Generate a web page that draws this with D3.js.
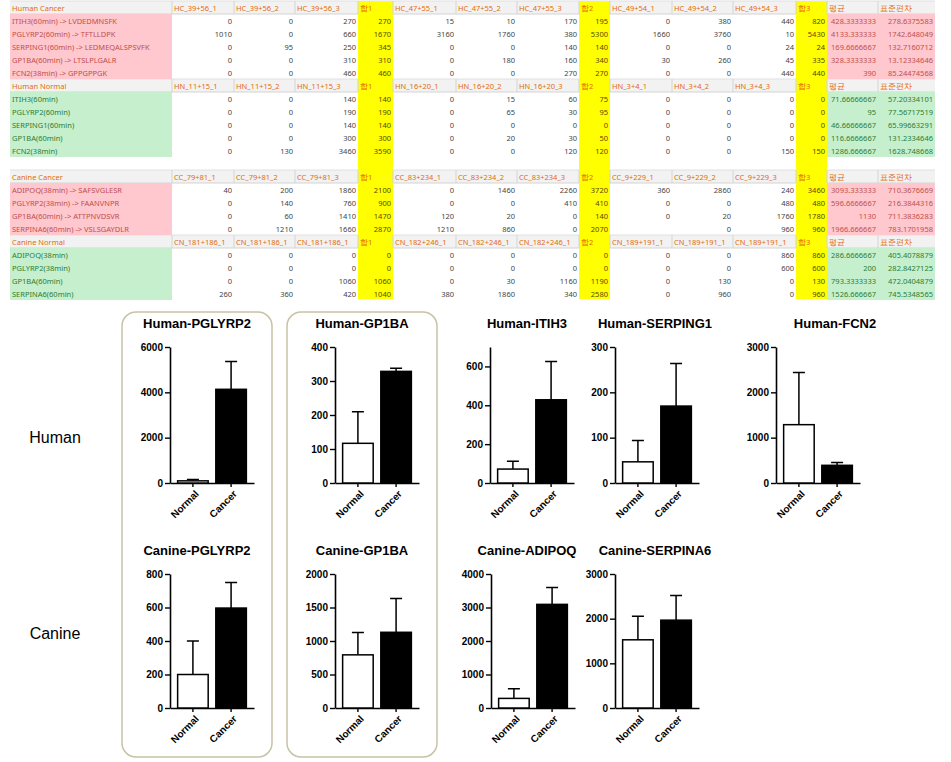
<!DOCTYPE html>
<html>
<head>
<meta charset="utf-8">
<script src="https://cdn.jsdelivr.net/npm/d3@7"></script>
<style>
  body { margin: 0; background: #fff; }
  svg { display: block; }
</style>
</head>
<body>
<svg id="fig"></svg>
<script>
// ---------- spreadsheet data ----------
const hcHeader = ["Human Cancer", "HC_39+56_1", "HC_39+56_2", "HC_39+56_3", "합1", "HC_47+55_1", "HC_47+55_2", "HC_47+55_3", "합2", "HC_49+54_1", "HC_49+54_2", "HC_49+54_3", "합3", "평균", "표준편차"];
const hcLabels = ["ITIH3(60min) -> LVDEDMNSFK", "PGLYRP2(60min) -> TFTLLDPK", "SERPING1(60min) -> LEDMEQALSPSVFK", "GP1BA(60min) -> LTSLPLGALR", "FCN2(38min) -> GPPGPPGK"];
const hcValues = [
  ["0", "0", "270", "270", "15", "10", "170", "195", "0", "380", "440", "820", "428.3333333", "278.6375583"],
  ["1010", "0", "660", "1670", "3160", "1760", "380", "5300", "1660", "3760", "10", "5430", "4133.333333", "1742.648049"],
  ["0", "95", "250", "345", "0", "0", "140", "140", "0", "0", "24", "24", "169.6666667", "132.7160712"],
  ["0", "0", "310", "310", "0", "180", "160", "340", "30", "260", "45", "335", "328.3333333", "13.12334646"],
  ["0", "0", "460", "460", "0", "0", "270", "270", "0", "0", "440", "440", "390", "85.24474568"]
];

const hnHeader = ["Human Normal", "HN_11+15_1", "HN_11+15_2", "HN_11+15_3", "합1", "HN_16+20_1", "HN_16+20_2", "HN_16+20_3", "합2", "HN_3+4_1", "HN_3+4_2", "HN_3+4_3", "합3", "평균", "표준편차"];
const hnLabels = ["ITIH3(60min)", "PGLYRP2(60min)", "SERPING1(60min)", "GP1BA(60min)", "FCN2(38min)"];
const hnValues = [
  ["0", "0", "140", "140", "0", "15", "60", "75", "0", "0", "0", "0", "71.66666667", "57.20334101"],
  ["0", "0", "190", "190", "0", "65", "30", "95", "0", "0", "0", "0", "95", "77.56717519"],
  ["0", "0", "140", "140", "0", "0", "0", "0", "0", "0", "0", "0", "46.66666667", "65.99663291"],
  ["0", "0", "300", "300", "0", "20", "30", "50", "0", "0", "0", "0", "116.6666667", "131.2334646"],
  ["0", "130", "3460", "3590", "0", "0", "120", "120", "0", "0", "150", "150", "1286.666667", "1628.748668"]
];

const ccHeader = ["Canine Cancer", "CC_79+81_1", "CC_79+81_2", "CC_79+81_3", "합1", "CC_83+234_1", "CC_83+234_2", "CC_83+234_3", "합2", "CC_9+229_1", "CC_9+229_2", "CC_9+229_3", "합3", "평균", "표준편차"];
const ccLabels = ["ADIPOQ(38min) -> SAFSVGLESR", "PGLYRP2(38min) -> FAANVNPR", "GP1BA(60min) -> ATTPNVDSVR", "SERPINA6(60min) -> VSLSGAYDLR"];
const ccValues = [
  ["40", "200", "1860", "2100", "0", "1460", "2260", "3720", "360", "2860", "240", "3460", "3093.333333", "710.3676669"],
  ["0", "140", "760", "900", "0", "0", "410", "410", "0", "0", "480", "480", "596.6666667", "216.3844316"],
  ["0", "60", "1410", "1470", "120", "20", "0", "140", "0", "20", "1760", "1780", "1130", "711.3836283"],
  ["0", "1210", "1660", "2870", "1210", "860", "0", "2070", "", "0", "960", "960", "1966.666667", "783.1701958"]
];

const cnHeader = ["Canine Normal", "CN_181+186_1", "CN_181+186_1", "CN_181+186_1", "합1", "CN_182+246_1", "CN_182+246_1", "CN_182+246_1", "합2", "CN_189+191_1", "CN_189+191_1", "CN_189+191_1", "합3", "평균", "표준편차"];
const cnLabels = ["ADIPOQ(38min)", "PGLYRP2(38min)", "GP1BA(60min)", "SERPINA6(60min)"];
const cnValues = [
  ["0", "0", "0", "0", "0", "0", "0", "0", "0", "0", "860", "860", "286.6666667", "405.4078879"],
  ["0", "0", "0", "0", "0", "0", "0", "0", "0", "0", "600", "600", "200", "282.8427125"],
  ["0", "0", "1060", "1060", "0", "30", "1160", "1190", "0", "130", "0", "130", "793.3333333", "472.0404879"],
  ["260", "360", "420", "1040", "380", "1860", "340", "2580", "0", "960", "0", "960", "1526.666667", "745.5348565"]
];

// ---------- bar chart data (mean, SEM) ----------
const groups = ["Normal", "Cancer"];

const humanGenes = ["PGLYRP2", "GP1BA", "ITIH3", "SERPING1", "FCN2"];
const humanNormalMean = [95, 116.7, 71.7, 46.7, 1286.7];
const humanNormalErr = [55, 93, 40, 47, 1152];
const humanCancerMean = [4133.3, 328.3, 428.3, 169.7, 390];
const humanCancerErr = [1232, 9, 197, 94, 60];
const humanAxisMax = [6000, 400, 700, 300, 3000];
const humanTickStep = [2000, 100, 200, 100, 1000];

const canineGenes = ["PGLYRP2", "GP1BA", "ADIPOQ", "SERPINA6"];
const canineNormalMean = [200, 793.3, 286.7, 1526.7];
const canineNormalErr = [200, 334, 287, 527];
const canineCancerMean = [596.7, 1130, 3093.3, 1966.7];
const canineCancerErr = [153, 503, 502, 554];
const canineAxisMax = [800, 2000, 4000, 3000];
const canineTickStep = [200, 500, 1000, 1000];

// ---------- layout ----------
const W = 951, H = 762;
const svg = d3.select("#fig").attr("width", W).attr("height", H)
  .attr("viewBox", [0, 0, W, H]);

const colEdges = [10, 172, 234, 295, 358, 393, 456, 517, 579, 610, 672, 733, 796, 827, 878, 935];
const sumIdx = [4, 8, 12];
const rowH = 13;
const tableFont = "'Noto Sans', 'Open Sans', sans-serif";

const sections = [
  {header: hcHeader, labels: hcLabels, values: hcValues, top: 1, fill: "#ffc7ce", ink: "#c0504d"},
  {header: hnHeader, labels: hnLabels, values: hnValues, top: 79, fill: "#c6efce", ink: "#2e7d32"},
  {header: ccHeader, labels: ccLabels, values: ccValues, top: 170, fill: "#ffc7ce", ink: "#c0504d"},
  {header: cnHeader, labels: cnLabels, values: cnValues, top: 235, fill: "#c6efce", ink: "#2e7d32"}
];

const table = svg.append("g").attr("font-family", tableFont).attr("font-size", 7.5);

// header rows background
sections.forEach(s => {
  table.append("rect")
    .attr("x", colEdges[0]).attr("y", s.top)
    .attr("width", colEdges[15] - colEdges[0]).attr("height", rowH)
    .attr("fill", "#f2f2f2");
  table.append("line")
    .attr("x1", colEdges[0]).attr("x2", colEdges[15])
    .attr("y1", s.top + rowH).attr("y2", s.top + rowH)
    .attr("stroke", "#d4d4d4");
  table.append("line")
    .attr("x1", colEdges[0]).attr("x2", colEdges[15])
    .attr("y1", s.top).attr("y2", s.top)
    .attr("stroke", "#e0e0e0");
});

// yellow sum columns
sumIdx.forEach(i => {
  table.append("rect")
    .attr("x", colEdges[i]).attr("y", 1)
    .attr("width", colEdges[i + 1] - colEdges[i]).attr("height", 298)
    .attr("fill", "#ffff00");
});

sections.forEach(s => {
  const nRows = s.values.length;
  // label + mean/sd fills
  table.append("rect")
    .attr("x", colEdges[0]).attr("y", s.top + rowH)
    .attr("width", colEdges[1] - colEdges[0]).attr("height", nRows * rowH)
    .attr("fill", s.fill);
  table.append("rect")
    .attr("x", colEdges[13]).attr("y", s.top + rowH)
    .attr("width", colEdges[15] - colEdges[13]).attr("height", nRows * rowH)
    .attr("fill", s.fill);

  // header cell separators
  colEdges.slice(1, 15).forEach(x => {
    table.append("line")
      .attr("x1", x).attr("x2", x)
      .attr("y1", s.top).attr("y2", s.top + rowH)
      .attr("stroke", "#d4d4d4");
  });

  // header text
  table.selectAll(null)
    .data(s.header)
    .join("text")
    .attr("x", (d, i) => colEdges[i] + 2)
    .attr("y", s.top + rowH / 2)
    .attr("dominant-baseline", "central")
    .attr("fill", "#e36c0a")
    .text(d => d);

  // row labels
  table.selectAll(null)
    .data(s.labels)
    .join("text")
    .attr("x", colEdges[0] + 2)
    .attr("y", (d, i) => s.top + rowH * (i + 1.5))
    .attr("dominant-baseline", "central")
    .attr("fill", s.ink)
    .text(d => d);

  // values
  s.values.forEach((row, r) => {
    table.selectAll(null)
      .data(row)
      .join("text")
      .attr("x", (d, i) => colEdges[i + 2] - 2)
      .attr("y", s.top + rowH * (r + 1.5))
      .attr("dominant-baseline", "central")
      .attr("text-anchor", "end")
      .attr("fill", (d, i) => i >= 12 ? s.ink : (sumIdx.includes(i + 1) ? "#5a4a00" : "#444"))
      .text(d => d);
  });
});

// ---------- bar charts ----------
const chartFont = "'Liberation Sans', Arial, sans-serif";

// rounded highlight boxes
[[122, 272], [287, 437]].forEach(([x0, x1]) => {
  svg.append("rect")
    .attr("x", x0).attr("y", 312)
    .attr("width", x1 - x0).attr("height", 445)
    .attr("rx", 14)
    .attr("fill", "none")
    .attr("stroke", "#c8c2a6")
    .attr("stroke-width", 1.5);
});

svg.append("text").attr("x", 55).attr("y", 437)
  .attr("font-family", chartFont).attr("font-size", 16)
  .attr("text-anchor", "middle").attr("dominant-baseline", "central")
  .text("Human");
svg.append("text").attr("x", 55).attr("y", 633)
  .attr("font-family", chartFont).attr("font-size", 16)
  .attr("text-anchor", "middle").attr("dominant-baseline", "central")
  .text("Canine");

function drawChart(cfg) {
  const g = svg.append("g")
    .attr("font-family", chartFont)
    .attr("font-weight", "bold");

  const y = d3.scaleLinear().domain([0, cfg.max]).range([cfg.bottom, cfg.top]);
  const x = d3.scaleBand().domain(groups)
    .range([cfg.axisX, cfg.axisX + 84])
    .paddingInner(0.2).paddingOuter(0.2);

  g.append("text")
    .attr("x", cfg.titleX).attr("y", cfg.top - 19)
    .attr("text-anchor", "middle")
    .attr("font-size", 13)
    .text(cfg.title);

  const yAxis = g.append("g")
    .attr("transform", `translate(${cfg.axisX},0)`)
    .call(d3.axisLeft(y).tickValues(d3.range(0, cfg.max + 1, cfg.step)).tickSize(5).tickSizeOuter(0).tickFormat(d3.format("d")));
  yAxis.select(".domain").attr("stroke-width", 1.6);
  yAxis.selectAll(".tick line").attr("stroke-width", 1.4);
  yAxis.selectAll(".tick text").attr("font-size", 10).attr("font-family", chartFont).attr("font-weight", "bold").attr("x", -7);

  const xAxis = g.append("g")
    .attr("transform", `translate(0,${cfg.bottom})`)
    .call(d3.axisBottom(x).tickSize(4).tickSizeOuter(0));
  xAxis.select(".domain").attr("stroke-width", 1.6);
  xAxis.selectAll(".tick line").attr("stroke-width", 1.4);
  xAxis.selectAll(".tick text")
    .attr("font-size", 10).attr("font-family", chartFont).attr("font-weight", "bold")
    .attr("text-anchor", "end")
    .attr("dy", null).attr("y", 0).attr("x", 0)
    .attr("transform", "translate(4,9) rotate(-45)")
    .attr("dominant-baseline", "central");

  const bars = groups.map((k, i) => ({key: k, mean: cfg.means[i], err: cfg.errs[i]}));

  // error bars (upper only)
  const cap = 6;
  g.selectAll(null).data(bars).join("path")
    .attr("d", d => {
      const cx = x(d.key) + x.bandwidth() / 2;
      const yt = y(d.mean + d.err);
      return `M${cx},${y(d.mean)}V${yt}M${cx - cap},${yt}H${cx + cap}`;
    })
    .attr("stroke", "#000").attr("stroke-width", 1.5).attr("fill", "none");

  g.selectAll(null).data(bars).join("rect")
    .attr("x", d => x(d.key))
    .attr("y", d => y(d.mean))
    .attr("width", x.bandwidth())
    .attr("height", d => cfg.bottom - y(d.mean))
    .attr("fill", d => d.key === "Normal" ? "#fff" : "#000")
    .attr("stroke", "#000").attr("stroke-width", 1.5);
}

const humanAxisX = [170, 335, 490, 615, 776];
const humanTitleX = [197, 362, 527, 655, 835];
humanGenes.forEach((gene, i) => drawChart({
  title: "Human-" + gene,
  axisX: humanAxisX[i], titleX: humanTitleX[i],
  top: 347, bottom: 483,
  max: humanAxisMax[i], step: humanTickStep[i],
  means: [humanNormalMean[i], humanCancerMean[i]],
  errs: [humanNormalErr[i], humanCancerErr[i]]
}));

const canineAxisX = [170, 335, 491, 615];
const canineTitleX = [197, 362, 527, 655];
canineGenes.forEach((gene, i) => drawChart({
  title: "Canine-" + gene,
  axisX: canineAxisX[i], titleX: canineTitleX[i],
  top: 574, bottom: 708,
  max: canineAxisMax[i], step: canineTickStep[i],
  means: [canineNormalMean[i], canineCancerMean[i]],
  errs: [canineNormalErr[i], canineCancerErr[i]]
}));
</script>
</body>
</html>
